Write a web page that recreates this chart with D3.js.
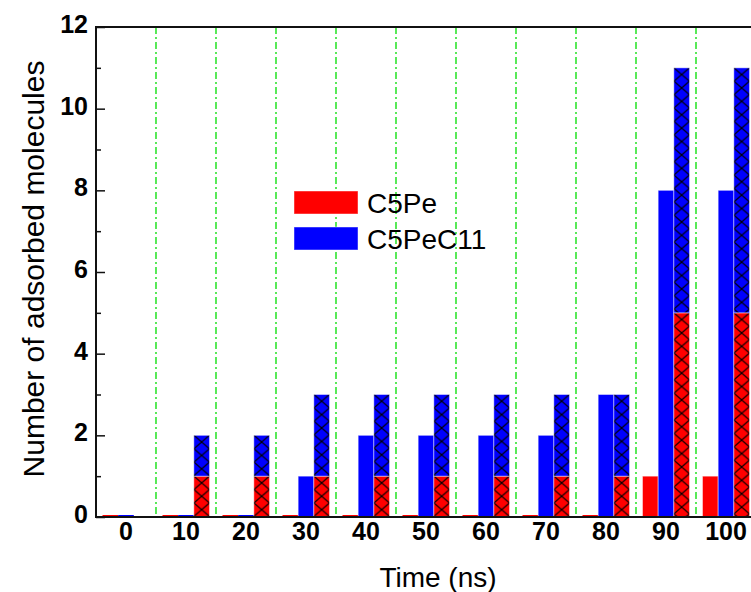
<!DOCTYPE html>
<html>
<head>
<meta charset="utf-8">
<script src="https://cdn.jsdelivr.net/npm/d3@7"></script>
<style>
    body { margin: 0; background: #fff; }
    svg { display: block; font-family: "Liberation Sans", Arial, sans-serif; }
</style>
</head>
<body>
<div id="chart"></div>
<script>
// data
const times = [0, 10, 20, 30, 40, 50, 60, 70, 80, 90, 100];
const c5peSolid = [0, 0, 0, 0, 0, 0, 0, 0, 0, 1, 1];
const c5pec11Solid = [0, 0, 0, 1, 2, 2, 2, 2, 3, 8, 8];
// hatched stacked bar: C5Pe part at the bottom, C5PeC11 part on top
const c5peHatch = [0, 1, 1, 1, 1, 1, 1, 1, 1, 5, 5];
const c5pec11Hatch = [0, 1, 1, 2, 2, 2, 2, 2, 2, 6, 6];
const yTicks = [0, 2, 4, 6, 8, 10, 12];
const legendItems = [
    { name: 'C5Pe', color: '#ff0000' },
    { name: 'C5PeC11', color: '#0000ff' }
];

const width = 751, height = 592;
const margin = { top: 27, right: -5, bottom: 75, left: 96 };

const svg = d3.select('#chart')
    .append('svg')
    .attr('width', width)
    .attr('height', height);

const x = d3.scaleBand()
    .domain(times)
    .range([margin.left, width - margin.right])
    .paddingInner(0.2167)
    .paddingOuter(0.1083);

const sub = d3.scaleBand()
    .domain(['pe', 'pec11', 'hatch'])
    .range([0, x.bandwidth()]);

const y = d3.scaleLinear()
    .domain([0, 12])
    .range([height - margin.bottom, margin.top]);

const step = x.step();
const x0 = margin.left, x1 = width - margin.right;
const yb = y(0), yt = y(12);

// green dash-dot separators between time groups
svg.append('g')
    .attr('class', 'separators')
    .selectAll('line')
    .data(times.slice(1))
    .join('line')
    .attr('x1', d => x(d) - (step - x.bandwidth()) / 2)
    .attr('x2', d => x(d) - (step - x.bandwidth()) / 2)
    .attr('y1', yt)
    .attr('y2', yb)
    .attr('stroke', '#00dd00')
    .attr('stroke-width', 1.3)
    .attr('stroke-dasharray', '7,3,2,3');

const defs = svg.append('defs');
const hatchH = 13.4;

function hatchPattern(id, color, px, py) {
    const w = sub.bandwidth();
    const p = defs.append('pattern')
        .attr('id', id)
        .attr('patternUnits', 'userSpaceOnUse')
        .attr('x', px)
        .attr('y', py)
        .attr('width', w)
        .attr('height', hatchH);
    p.append('rect').attr('width', w).attr('height', hatchH).attr('fill', color);
    p.append('path')
        .attr('d', `M0,0L${w},${hatchH}M${w},0L0,${hatchH}`)
        .attr('stroke', '#000')
        .attr('stroke-width', 1.2);
}

const edge = 'rgba(255,255,255,0.45)';
const bars = svg.append('g').attr('class', 'bars');

// solid bars
const solid = [
    { key: 'pe', values: c5peSolid, color: '#ff0000' },
    { key: 'pec11', values: c5pec11Solid, color: '#0000ff' }
];
solid.forEach(s => {
    bars.append('g')
        .selectAll('rect')
        .data(times.map((t, i) => ({ t, v: s.values[i] })))
        .join('rect')
        .attr('x', d => x(d.t) + sub(s.key))
        .attr('width', sub.bandwidth())
        .attr('y', d => d.v === 0 ? yb - 2 : y(d.v))
        .attr('height', d => d.v === 0 ? 2 : yb - y(d.v))
        .attr('fill', s.color)
        .attr('stroke', d => d.v === 0 ? 'none' : edge)
        .attr('stroke-width', 1);
});

// hatched stacked bars
times.forEach((t, i) => {
    const bx = x(t) + sub('hatch');
    const lo = c5peHatch[i], hi = c5peHatch[i] + c5pec11Hatch[i];
    if (lo > 0) {
        hatchPattern('hr' + i, '#ff0000', bx, y(lo));
        bars.append('rect')
            .attr('x', bx).attr('width', sub.bandwidth())
            .attr('y', y(lo)).attr('height', yb - y(lo))
            .attr('fill', `url(#hr${i})`)
            .attr('stroke', edge);
    }
    if (hi > lo) {
        hatchPattern('hb' + i, '#0000ff', bx, y(hi));
        bars.append('rect')
            .attr('x', bx).attr('width', sub.bandwidth())
            .attr('y', y(hi)).attr('height', y(lo) - y(hi))
            .attr('fill', `url(#hb${i})`)
            .attr('stroke', edge);
    }
});

// frame
const frame = svg.append('g').attr('stroke', '#111').attr('stroke-width', 2).attr('fill', 'none');
frame.append('line').attr('x1', x0).attr('x2', x0).attr('y1', yt - 1).attr('y2', yb + 1);
frame.append('line').attr('x1', x0).attr('x2', x1).attr('y1', yt).attr('y2', yt);
frame.append('line').attr('x1', x0).attr('x2', x1).attr('y1', yb).attr('y2', yb);
frame.append('line').attr('x1', x1).attr('x2', x1).attr('y1', yt).attr('y2', yb);

// y axis, ticks pointing inward
const yAxis = svg.append('g')
    .attr('transform', `translate(${x0},0)`)
    .call(d3.axisRight(y).tickValues(yTicks).tickSize(9).tickFormat(''));
yAxis.select('.domain').remove();
yAxis.selectAll('line').attr('stroke', '#111').attr('stroke-width', 1.5);

const yMinor = svg.append('g')
    .attr('transform', `translate(${x0},0)`)
    .call(d3.axisRight(y).tickValues(d3.range(1, 12, 2)).tickSize(5).tickFormat(''));
yMinor.select('.domain').remove();
yMinor.selectAll('line').attr('stroke', '#111').attr('stroke-width', 1.5);

svg.append('g')
    .selectAll('text')
    .data(yTicks)
    .join('text')
    .attr('x', 88)
    .attr('y', d => y(d) + 6)
    .attr('text-anchor', 'end')
    .attr('font-size', 25)
    .attr('font-weight', 'bold')
    .text(d => d);

// x labels
svg.append('g')
    .selectAll('text')
    .data(times)
    .join('text')
    .attr('x', d => x(d) + x.bandwidth() / 2)
    .attr('y', 540)
    .attr('text-anchor', 'middle')
    .attr('font-size', 25)
    .attr('font-weight', 'bold')
    .text(d => d);

// axis titles
svg.append('text')
    .attr('x', 438)
    .attr('y', 587)
    .attr('text-anchor', 'middle')
    .attr('font-size', 28)
    .text('Time (ns)');

svg.append('text')
    .attr('transform', 'translate(44,269) rotate(-90)')
    .attr('text-anchor', 'middle')
    .attr('font-size', 30)
    .text('Number of adsorbed molecules');

// legend
const legend = svg.append('g').attr('class', 'legend');
legendItems.forEach((d, i) => {
    legend.append('rect')
        .attr('x', 294).attr('y', 191 + i * 36)
        .attr('width', 64).attr('height', 23)
        .attr('fill', d.color)
        .attr('stroke', edge);
    legend.append('text')
        .attr('x', 367).attr('y', 213 + i * 36)
        .attr('font-size', 28)
        .text(d.name);
});
</script>
</body>
</html>
